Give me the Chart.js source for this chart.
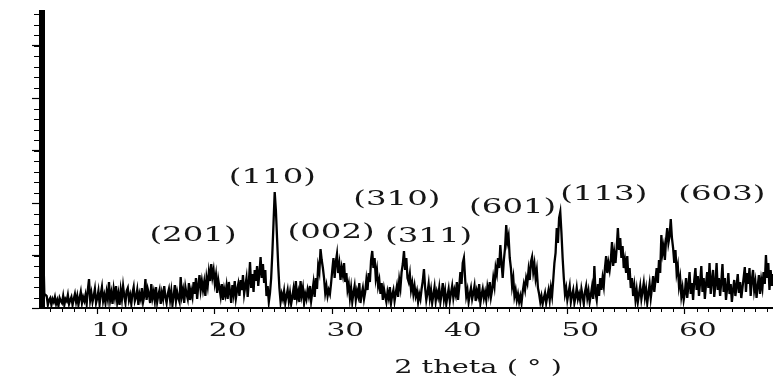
<!DOCTYPE html>
<html>
<head>
<meta charset="utf-8">
<script src="https://cdn.jsdelivr.net/npm/chart.js@4.4.1/dist/chart.umd.min.js"></script>
<style>
  html, body { margin: 0; padding: 0; background: #fff; }
  #wrap { width: 773px; height: 382px; }
</style>
</head>
<body>
<div id="wrap"><canvas id="xrdChart"></canvas></div>
<script>
// scan: 2 theta from 5.3 deg, 0.1 deg per step
const startAngle = 5.3;
const angleStep = 0.1;

// intensity (a.u.), one row per degree
const intensity = [
  280, 60, 14, 13, 12, 3, 8,
  10, 3, 9, 6, 11, 4, 8, 2, 10, 7,
  5, 12, 3, 9, 7, 13, 4, 8, 11, 3,
  9, 14, 6, 12, 3, 10, 16, 5, 11, 7,
  13, 4, 18, 29, 8, 15, 6, 12, 19, 5,
  10, 17, 4, 14, 21, 7, 13, 5, 16, 9,
  26, 8, 15, 4, 19, 11, 22, 6, 14, 3,
  18, 9, 22, 12, 5, 17, 20, 8, 13, 4,
  15, 21, 7, 11, 18, 3, 14, 9, 20, 6,
  12, 29, 8, 19, 14, 5, 24, 10, 16, 7,
  21, 6, 13, 18, 4, 15, 9, 22, 11, 5,
  14, 19, 8, 17, 3, 12, 23, 7, 16, 10,
  6, 31, 12, 18, 5, 21, 14, 9, 25, 8,
  17, 11, 26, 14, 30, 9, 22, 33, 18, 27,
  18, 26, 12, 30, 22, 36, 27, 44, 31, 38,
  25, 33, 15, 28, 20, 12, 24, 8, 19, 13,
  22, 9, 26, 16, 5, 23, 14, 27, 10, 18,
  24, 12, 28, 18, 33, 14, 22, 30, 11, 26,
  46, 20, 34, 16, 38, 27, 42, 22, 35, 51,
  30, 44, 25, 38, 12, 22, 6, 15, 30, 55,
  85, 116, 98, 70, 42, 20, 6, 14, 9, 17,
  5, 12, 18, 7, 15, 4, 11, 19, 8, 27,
  10, 16, 6, 27, 13, 20, 5, 14, 9, 18,
  12, 22, 7, 16, 25, 11, 30, 19, 42, 36,
  59, 48, 40, 30, 15, 22, 12, 18, 14, 25,
  38, 50, 30, 46, 54, 35, 44, 28, 40, 33,
  45, 26, 35, 18, 24, 10, 20, 6, 15, 22,
  8, 17, 12, 25, 5, 14, 20, 9, 16, 28,
  18, 35, 26, 48, 57, 40, 50, 30, 38, 22,
  28, 14, 25, 8, 19, 12, 6, 16, 10, 21,
  5, 13, 18, 7, 15, 22, 11, 28, 20, 36,
  44, 57, 38, 50, 30, 26, 34, 18, 25, 14,
  22, 12, 17, 6, 14, 9, 19, 27, 39, 20,
  8, 15, 24, 10, 18, 5, 13, 21, 7, 16,
  11, 20, 6, 14, 25, 9, 17, 4, 12, 19,
  7, 15, 22, 10, 18, 13, 26, 8, 21, 36,
  24, 45, 50, 30, 12, 18, 6, 14, 20, 9,
  15, 22, 7, 17, 12, 24, 5, 13, 19, 10,
  16, 8, 21, 14, 26, 11, 18, 30, 22, 40,
  34, 50, 40, 63, 45, 30, 48, 60, 83, 66,
  72, 50, 40, 22, 30, 12, 18, 8, 14, 6,
  12, 5, 16, 24, 18, 30, 25, 38, 28, 46,
  51, 36, 44, 30, 38, 20, 14, 6, 12, 4,
  10, 15, 5, 12, 18, 8, 20, 12, 28, 45,
  55, 80, 65, 90, 96, 75, 50, 30, 14, 20,
  8, 15, 22, 6, 13, 18, 5, 11, 20, 9,
  14, 7, 19, 12, 4, 16, 22, 10, 17, 6,
  13, 21, 9, 42, 15, 8, 24, 12, 30, 18,
  30, 22, 40, 52, 35, 45, 38, 48, 66, 42,
  55, 45, 60, 80, 58, 70, 50, 62, 40, 48,
  35, 52, 28, 40, 20, 30, 12, 22, 8, 18,
  6, 14, 22, 9, 17, 25, 11, 19, 5, 15,
  24, 10, 20, 32, 16, 28, 40, 25, 48, 35,
  73, 55, 62, 48, 68, 80, 65, 72, 89, 70,
  60, 45, 58, 35, 42, 22, 30, 12, 20, 8,
  15, 30, 10, 22, 36, 14, 25, 8, 28, 40,
  18, 32, 12, 26, 42, 16, 30, 9, 24, 36,
  20, 45, 14, 28, 38, 11, 24, 45, 18, 30,
  12, 26, 44, 16, 30, 8, 20, 35, 14, 24,
  6, 18, 28, 12, 22, 34, 15, 26, 10, 20,
  30, 41, 16, 35, 24, 40, 12, 28, 38, 18,
  26, 10, 22, 33, 14, 28, 20, 36, 24, 53,
  30, 45, 18, 38, 22, 34
];

const xTickValues = [10, 20, 30, 40, 50, 60];
const yTickValues = [0, 52.5, 105, 157.5, 210, 262.5];

// peak labels (Miller indices) and where they sit
const peakNames = ["(201)", "(110)", "(002)", "(310)", "(311)", "(601)", "(113)", "(603)"];
const peakAngles = [18.15, 24.9, 29.9, 35.5, 38.2, 45.35, 53.1, 63.15];
const peakLabelY = [72, 130, 75, 108, 71, 100, 113, 113];

const points = intensity.map((v, i) => ({ x: +(startAngle + i * angleStep).toFixed(1), y: v }));

function stretchedText(ctx, text, x, y, size, sx) {
  ctx.save();
  ctx.translate(x, y);
  ctx.scale(sx, 1);
  ctx.font = size + "px 'DejaVu Serif'";
  ctx.textAlign = "center";
  ctx.textBaseline = "middle";
  ctx.fillStyle = "#161616";
  ctx.fillText(text, 0, 0);
  ctx.restore();
}

const decorations = {
  id: "decorations",
  afterDraw(chart) {
    const { ctx, scales: { x, y } } = chart;
    // minor ticks
    ctx.save();
    ctx.strokeStyle = "#000";
    ctx.lineWidth = 1;
    ctx.beginPath();
    for (let a = 6; a <= 67; a++) {
      if (a % 10 === 0) continue;
      const px = Math.round(x.getPixelForValue(a)) + 0.5;
      ctx.moveTo(px, y.bottom + 1);
      ctx.lineTo(px, y.bottom + 4);
    }
    for (let v = 10.5; v < 295; v += 10.5) {
      const py = Math.round(y.getPixelForValue(v)) + 0.5;
      ctx.moveTo(x.left - 8, py);
      ctx.lineTo(x.left - 3, py);
    }
    ctx.stroke();
    ctx.restore();

    // tick labels
    xTickValues.forEach(v => {
      stretchedText(ctx, String(v), x.getPixelForValue(v) + 13, 331, 18, 1.65);
    });
    // axis title
    stretchedText(ctx, "2 theta ( \u00b0 )", x.left + 436, 368, 18, 1.6);

    // peak labels
    peakNames.forEach((t, i) => {
      stretchedText(ctx, t, x.getPixelForValue(peakAngles[i]), y.getPixelForValue(peakLabelY[i]), 20, 1.62);
    });
  }
};

new Chart(document.getElementById("xrdChart"), {
  type: "line",
  data: {
    datasets: [{
      data: points,
      borderColor: "#000",
      borderWidth: 2.3,
      pointRadius: 0,
      tension: 0,
      fill: false
    }]
  },
  options: {
    responsive: true,
    maintainAspectRatio: false,
    animation: false,
    layout: { padding: { top: 13, right: 0, left: 0, bottom: 0 } },
    plugins: { legend: { display: false }, tooltip: { enabled: false } },
    scales: {
      x: {
        type: "linear",
        min: 5.3,
        max: 67.5,
        afterBuildTicks: s => { s.ticks = xTickValues.map(v => ({ value: v })); },
        afterFit: s => { s.height = 74; },
        ticks: { display: false },
        grid: { drawOnChartArea: false, drawTicks: true, tickLength: 6, tickColor: "#000", tickWidth: 1.2 },
        border: { color: "#000", width: 2 }
      },
      y: {
        min: 0,
        max: 295,
        afterBuildTicks: s => { s.ticks = yTickValues.map(v => ({ value: v })); },
        afterFit: s => { s.width = 42; },
        ticks: { display: false },
        grid: { drawOnChartArea: false, drawTicks: true, tickLength: 10, tickColor: "#000", tickWidth: 1.2 },
        border: { color: "#000", width: 6 }
      }
    }
  },
  plugins: [decorations]
});
</script>
</body>
</html>
